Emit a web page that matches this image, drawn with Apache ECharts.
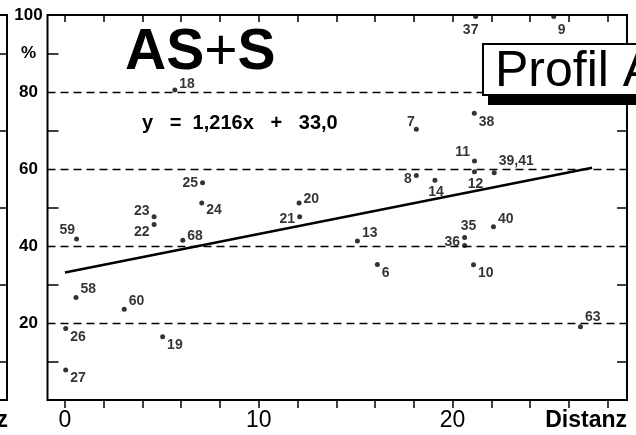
<!DOCTYPE html>
<html>
<head>
<meta charset="utf-8">
<script src="https://cdn.jsdelivr.net/npm/echarts@6/dist/echarts.min.js"></script>
<style>
html, body { margin: 0; padding: 0; background: #fff; }
#chart { width: 636px; height: 435px; }
</style>
</head>
<body>
<div id="chart"></div>
<script>
// Station numbers with distance (x) and percent (y)
var pointNames = ['18', '25', '24', '20', '23', '22', '21', '59', '68', '58', '60', '26', '19', '27',
  '37', '9', '7', '38', '11', '12', '39,41', '8', '14', '13', '6', '35', '36', '10', '40', '63'];
var pointX = [5.67, 7.10, 7.06, 12.08, 4.60, 4.60, 12.11, 0.60, 6.08, 0.57, 3.06, 0.04, 5.04, 0.04,
  21.19, 25.22, 18.13, 21.12, 21.13, 21.13, 22.15, 18.13, 19.09, 15.09, 16.12, 20.62, 20.62, 21.08, 22.11, 26.6];
var pointY = [80.5, 56.4, 51.2, 51.2, 47.6, 45.6, 47.6, 41.8, 41.5, 26.6, 23.6, 18.6, 16.4, 7.8,
  99.6, 99.6, 70.3, 74.5, 62.1, 59.3, 59.0, 58.3, 57.1, 41.3, 35.2, 42.2, 40.1, 35.1, 45.0, 19.0];

// regression line as drawn
var lineX = [0, 27.2];
var lineY = [33.1, 60.3];

var xTickValues = [0, 2, 4, 6, 8, 10, 12, 14, 16, 18, 20, 22, 24, 26, 28];
var xLabelValues = [0, 10, 20];
var yTickValues = [10, 30, 50, 70, 90];
var yLabelValues = [20, 40, 60, 80, 90, 100];
var yGridValues = [20, 40, 60, 80];

var equation = 'y   =  1,216x   +   33,0';

// where each number sits next to its dot: [position, dx, dy]
var labelPlace = {
  '18': ['right', 0, -6], '25': ['left', 0, 0], '24': ['right', 0, 7], '20': ['right', 0, -4],
  '23': ['left', 0, -6], '22': ['left', 0, 8], '21': ['left', 0, 2], '59': ['left', 3, -9],
  '68': ['right', 0, -4], '58': ['right', 0, -8], '60': ['right', 0, -8], '26': ['right', 0, 9],
  '19': ['right', 0, 8], '27': ['right', 0, 8], '37': ['bottom', -5, 2], '9': ['bottom', 8, 2],
  '7': ['left', 3, -7], '38': ['right', 0, 9], '11': ['left', 0, -9], '12': ['bottom', 1, 1],
  '39,41': ['right', 0, -12], '8': ['left', 0, 4], '14': ['bottom', 1, 0], '13': ['right', 0, -8],
  '6': ['right', 0, 9], '35': ['top', 4, 0], '36': ['left', 0, -3], '10': ['right', 0, 8],
  '40': ['right', 0, -8], '63': ['right', 0, -10]
};

var FONT = '"Liberation Sans", Arial, Helvetica, sans-serif';

var points = pointNames.map(function (n, i) {
  var p = labelPlace[n] || ['right', 0, 0];
  return {
    name: n,
    value: [pointX[i], pointY[i]],
    label: { position: p[0], offset: [p[1], p[2]] }
  };
});

var regression = lineX.map(function (x, i) { return [x, lineY[i]]; });

var tickStyle = { color: '#000', width: 1.5 };
var noLine = { show: false, onZero: false };

var option = {
  animation: false,
  backgroundColor: '#fff',
  grid: [
    { left: 47.5, right: 9, top: 15, bottom: 35, show: true, borderColor: '#000', borderWidth: 2, outerBoundsMode: 'none', containLabel: false },
    // edge of the neighbouring panel on the left
    { left: -40, width: 47, top: 15, bottom: 35, show: true, borderColor: '#000', borderWidth: 2, outerBoundsMode: 'none', containLabel: false }
  ],
  xAxis: [
    {
      gridIndex: 0, type: 'value', min: -0.9, max: 29, position: 'bottom',
      axisLine: noLine,
      axisTick: { show: true, inside: false, length: 8, lineStyle: tickStyle, customValues: xTickValues },
      axisLabel: { customValues: xLabelValues, color: '#000', fontSize: 23, fontFamily: FONT, margin: 9 },
      splitLine: { show: false }
    },
    {
      gridIndex: 0, type: 'value', min: -0.9, max: 29, position: 'top',
      axisLine: noLine,
      axisTick: { show: true, inside: true, length: 7, lineStyle: tickStyle, customValues: xTickValues },
      axisLabel: { show: false },
      splitLine: { show: false }
    },
    {
      gridIndex: 1, type: 'value', min: 0, max: 1,
      axisLine: noLine, axisTick: { show: false }, axisLabel: { show: false }, splitLine: { show: false }
    }
  ],
  yAxis: [
    {
      gridIndex: 0, type: 'value', min: 0, max: 100, position: 'left',
      axisLine: noLine,
      axisTick: { show: true, inside: true, length: 11, lineStyle: tickStyle, customValues: yTickValues },
      axisLabel: {
        customValues: yLabelValues, color: '#000', fontSize: 17, fontWeight: 'bold',
        fontFamily: FONT, align: 'center', margin: 19,
        formatter: function (v) { return v === 90 ? '%' : String(v); }
      },
      splitLine: { show: false }
    },
    {
      gridIndex: 0, type: 'value', min: 0, max: 100, position: 'right',
      axisLine: noLine,
      axisTick: { show: true, inside: true, length: 10, lineStyle: tickStyle, customValues: yTickValues },
      axisLabel: { show: false },
      splitLine: { show: false }
    },
    {
      gridIndex: 1, type: 'value', min: 0, max: 100, position: 'right',
      axisLine: noLine,
      axisTick: { show: true, inside: true, length: 7, lineStyle: tickStyle, customValues: yTickValues },
      axisLabel: { show: false },
      splitLine: { show: false }
    }
  ],
  series: [
    {
      type: 'line', xAxisIndex: 0, yAxisIndex: 0,
      data: regression, symbol: 'none',
      lineStyle: { color: '#000', width: 2.5 },
      z: 3
    },
    {
      type: 'scatter', xAxisIndex: 0, yAxisIndex: 0,
      data: points, symbolSize: 5,
      itemStyle: { color: '#000' },
      label: {
        show: true, formatter: '{b}', distance: 2,
        color: '#000', fontSize: 14, fontWeight: 'bold', fontFamily: FONT
      },
      markLine: {
        silent: true, symbol: 'none', animation: false,
        label: { show: false },
        lineStyle: { color: '#000', width: 1.3, type: [8, 5] },
        data: yGridValues.map(function (v) { return { yAxis: v }; })
      },
      z: 4
    }
  ],
  graphic: [
    {
      type: 'text', left: 125, top: 25, z: 50,
      style: {
        text: '{a|AS}{b|+}{a|S}',
        rich: {
          a: { fontSize: 57, fontWeight: 'bold', fontFamily: FONT, fill: '#000' },
          b: { fontSize: 57, fontWeight: 'normal', fontFamily: FONT, fill: '#000' }
        }
      }
    },
    {
      type: 'text', x: 142, y: 123.5, z: 50,
      style: { text: equation, fontSize: 20, fontWeight: 'bold', fontFamily: FONT, fill: '#000', verticalAlign: 'middle' }
    },
    {
      type: 'rect', z: 100,
      shape: { x: 488, y: 92, width: 200, height: 13 },
      style: { fill: '#000' }
    },
    {
      type: 'rect', z: 101,
      shape: { x: 483, y: 44, width: 200, height: 51 },
      style: { fill: '#fff', stroke: '#000', lineWidth: 2 }
    },
    {
      type: 'text', x: 495, y: 72, z: 102,
      style: { text: 'Profil A', fontSize: 50, fontFamily: FONT, fill: '#000', verticalAlign: 'middle' }
    },
    {
      type: 'text', x: 627, y: 421, z: 50,
      style: { text: 'Distanz', fontSize: 23, fontWeight: 'bold', fontFamily: FONT, fill: '#000', align: 'right', verticalAlign: 'middle' }
    },
    {
      type: 'text', x: 8, y: 421, z: 50,
      style: { text: 'Distanz', fontSize: 23, fontWeight: 'bold', fontFamily: FONT, fill: '#000', align: 'right', verticalAlign: 'middle' }
    }
  ]
};

var chart = echarts.init(document.getElementById('chart'), null, { renderer: 'canvas' });
chart.setOption(option);
</script>
</body>
</html>
